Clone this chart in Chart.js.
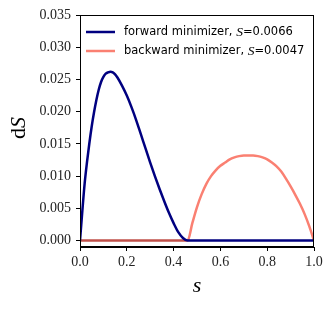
<!DOCTYPE html>
<html lang="en">
<head>
    <meta charset="UTF-8">
    <title>dS along s</title>
    <script src="https://cdn.jsdelivr.net/npm/chart.js"></script>
    <style>
        html, body {
            margin: 0;
            padding: 0;
            background-color: #fff;
        }
        #wrap {
            width: 333px;
            height: 309px;
        }
    </style>
</head>
<body>

<div id="wrap"><canvas id="grafico" width="333" height="309"></canvas></div>

<script>
// values
const forwardS = [0, 0.01, 0.02, 0.03, 0.04, 0.05, 0.06, 0.07, 0.08, 0.09, 0.10, 0.11, 0.12, 0.13, 0.14, 0.15, 0.16,
    0.18, 0.20, 0.22, 0.24, 0.26, 0.28, 0.30, 0.32, 0.34, 0.36, 0.38, 0.40, 0.42, 0.44, 0.46, 1.0];
const forwardDS = [0, 0.0046, 0.0089, 0.0122, 0.0151, 0.0177, 0.0199, 0.0218, 0.0234, 0.0246, 0.0254, 0.0259, 0.0261, 0.0262, 0.0261, 0.0258, 0.0253,
    0.0240, 0.0225, 0.0207, 0.0187, 0.0165, 0.0143, 0.0121, 0.0100, 0.0080, 0.0061, 0.0043, 0.0027, 0.0013, 0.0004, 0, 0];

const backwardS = [0, 0.46, 0.48, 0.50, 0.52, 0.54, 0.56, 0.58, 0.60, 0.62, 0.64, 0.66, 0.68, 0.70, 0.72, 0.74,
    0.76, 0.78, 0.80, 0.82, 0.84, 0.86, 0.88, 0.90, 0.92, 0.94, 0.96, 0.98, 1.0];
const backwardDS = [0, 0, 0.0027, 0.0052, 0.0072, 0.0088, 0.0100, 0.0109, 0.0116, 0.0121, 0.0126, 0.0129, 0.0131, 0.0132, 0.0132, 0.0132,
    0.0131, 0.0129, 0.0126, 0.0121, 0.0115, 0.0107, 0.0096, 0.0084, 0.0071, 0.0057, 0.0041, 0.0022, 0];

const seriesNames = ['forward minimizer', 'backward minimizer'];
const actionValues = ['0.0066', '0.0047'];
const seriesColors = ['#000080', '#fa8072'];

const xTicks = [0, 0.2, 0.4, 0.6, 0.8, 1.0];
const yTicks = [0, 0.005, 0.010, 0.015, 0.020, 0.025, 0.030, 0.035];

const serif = '"Liberation Serif", "DejaVu Serif", serif';
const sans = '"DejaVu Sans", sans-serif';

function pontos(xs, ys) {
    return xs.map((x, i) => ({ x: x, y: ys[i] }));
}

// frame, legend and axis titles (mixed upright / italic text)
const extras = {
    id: 'extras',
    afterDraw(chart) {
        const ctx = chart.ctx;
        const a = chart.chartArea;
        ctx.save();
        ctx.strokeStyle = '#000';
        ctx.lineWidth = 1;
        ctx.strokeRect(a.left + 0.5, a.top + 0.5, a.right - a.left - 1, a.bottom - a.top - 1);

        // legend
        ctx.textBaseline = 'middle';
        for (let i = 0; i < seriesNames.length; i++) {
            const y = a.top + 17 + i * 19;
            ctx.strokeStyle = seriesColors[i];
            ctx.lineWidth = 2.5;
            ctx.beginPath();
            ctx.moveTo(a.left + 6, y);
            ctx.lineTo(a.left + 35, y);
            ctx.stroke();

            let x = a.left + 44;
            ctx.fillStyle = '#000';
            ctx.font = '11.5px ' + sans;
            const t1 = seriesNames[i] + ', ';
            ctx.fillText(t1, x, y);
            x += ctx.measureText(t1).width;
            ctx.font = 'italic 13.5px ' + serif;
            ctx.fillText('S', x, y);
            x += ctx.measureText('S').width;
            ctx.font = '11.5px ' + sans;
            ctx.fillText('=' + actionValues[i], x, y);
        }

        // x title
        ctx.textAlign = 'center';
        ctx.font = 'italic 22px ' + serif;
        ctx.fillText('s', (a.left + a.right) / 2, 286);

        // y title
        ctx.translate(19, 128);
        ctx.rotate(-Math.PI / 2);
        ctx.textAlign = 'left';
        ctx.font = '22px ' + serif;
        const wd = ctx.measureText('d').width;
        ctx.font = 'italic 22px ' + serif;
        const ws = ctx.measureText('S').width;
        let x0 = -(wd + ws) / 2;
        ctx.font = '22px ' + serif;
        ctx.fillText('d', x0, 0);
        ctx.font = 'italic 22px ' + serif;
        ctx.fillText('S', x0 + wd, 0);
        ctx.restore();
    }
};

const ctx = document.getElementById('grafico').getContext('2d');

new Chart(ctx, {
    type: 'line',
    data: {
        datasets: [{
            label: seriesNames[0],
            data: pontos(forwardS, forwardDS),
            borderColor: seriesColors[0],
            borderWidth: 2.5,
            pointRadius: 0,
            cubicInterpolationMode: 'monotone',
            fill: false
        }, {
            label: seriesNames[1],
            data: pontos(backwardS, backwardDS),
            borderColor: seriesColors[1],
            borderWidth: 2.5,
            pointRadius: 0,
            cubicInterpolationMode: 'monotone',
            fill: false,
            segment: {
                // zero stretch lies over the navy line
                borderColor: c => (c.p0.parsed.y === 0 && c.p1.parsed.y === 0) ? '#c0504a' : undefined
            }
        }]
    },
    options: {
        responsive: false,
        animation: false,
        layout: {
            padding: { top: 15, right: 19, left: 0, bottom: 0 }
        },
        plugins: {
            legend: { display: false },
            tooltip: { enabled: false }
        },
        scales: {
            x: {
                type: 'linear',
                min: 0,
                max: 1,
                afterBuildTicks: s => { s.ticks = xTicks.map(v => ({ value: v })); },
                afterFit: s => { s.height = 62; },
                grid: { drawOnChartArea: false, drawTicks: true, tickLength: 4, color: '#000' },
                border: { display: true, color: '#000', width: 1 },
                ticks: {
                    padding: 3,
                    color: '#222',
                    font: { family: serif, size: 14 },
                    callback: v => v.toFixed(1)
                }
            },
            y: {
                type: 'linear',
                min: -0.001,
                max: 0.035,
                afterBuildTicks: s => { s.ticks = yTicks.map(v => ({ value: v })); },
                afterFit: s => { s.width = 80; },
                grid: { drawOnChartArea: false, drawTicks: true, tickLength: 4, color: '#000' },
                border: { display: true, color: '#000', width: 1 },
                ticks: {
                    padding: 5,
                    color: '#222',
                    font: { family: serif, size: 14 },
                    callback: v => v.toFixed(3)
                }
            }
        }
    },
    plugins: [extras]
});
</script>

</body>
</html>
